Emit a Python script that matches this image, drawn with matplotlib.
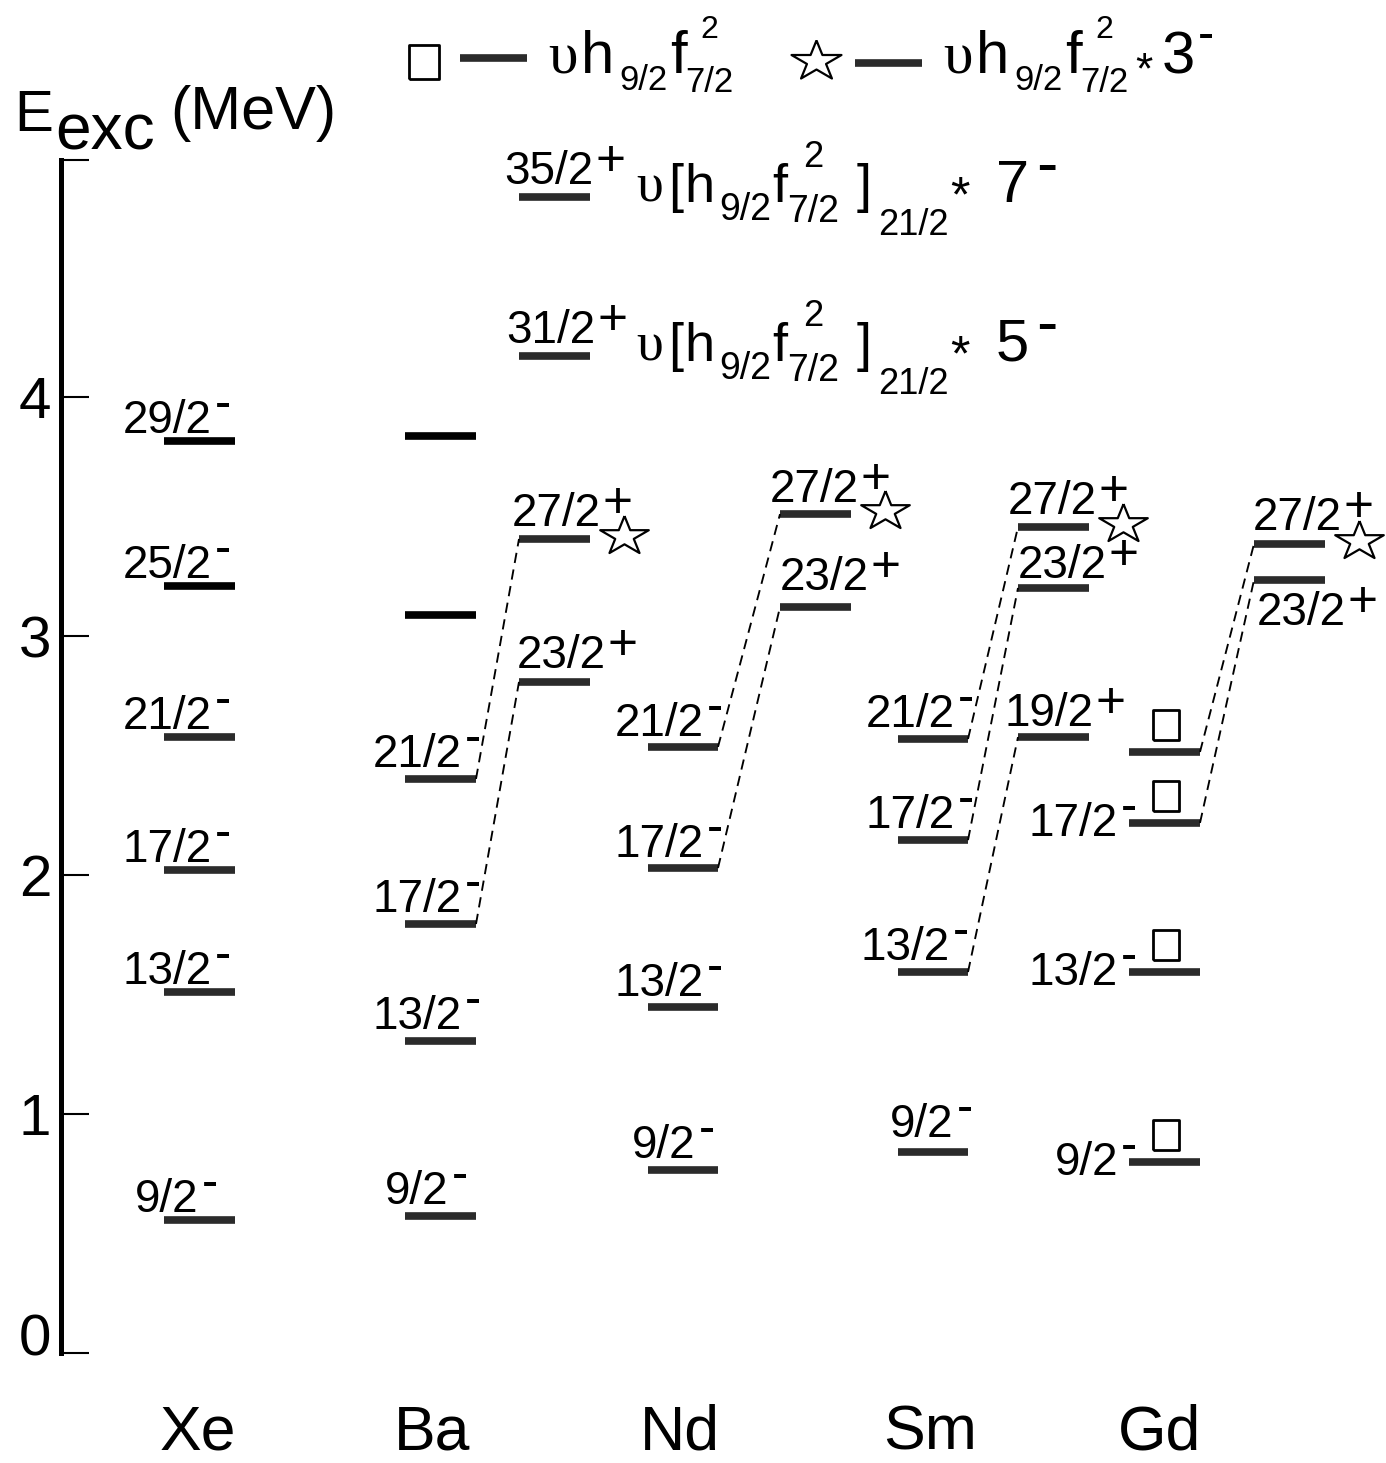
import numpy as np
import matplotlib
matplotlib.use("Agg")
import matplotlib.pyplot as plt
from matplotlib.transforms import ScaledTranslation

plt.rcParams['font.family'] = ['Liberation Sans', 'DejaVu Sans']

# ---------------- data (energies in MeV) ----------------
nuclei = ['Xe', 'Ba', 'Nd', 'Sm', 'Gd']

xe_spins = ['9/2', '13/2', '17/2', '21/2', '25/2', '29/2']
xe_energy = [0.556, 1.510, 2.021, 2.577, 3.209, 3.816]

ba_neg_spins = ['9/2', '13/2', '17/2', '21/2', '', '']
ba_neg_energy = [0.573, 1.305, 1.795, 2.402, 3.088, 3.837]
ba_pos_spins = ['23/2', '27/2', '31/2', '35/2']
ba_pos_energy = [2.808, 3.406, 4.172, 4.837]

nd_neg_spins = ['9/2', '13/2', '17/2', '21/2']
nd_neg_energy = [0.766, 1.448, 2.029, 2.536]
nd_pos_spins = ['23/2', '27/2']
nd_pos_energy = [3.121, 3.510]

sm_neg_spins = ['9/2', '13/2', '17/2', '21/2']
sm_neg_energy = [0.841, 1.594, 2.146, 2.569]
sm_pos_spins = ['19/2', '23/2', '27/2']
sm_pos_energy = [2.577, 3.201, 3.456]

gd_neg_spins = ['9/2', '13/2', '17/2', '']
gd_neg_energy = [0.799, 1.594, 2.218, 2.515]
gd_pos_spins = ['23/2', '27/2']
gd_pos_energy = [3.234, 3.385]

# configuration labels for the two highest Ba levels
config_levels = ['35/2', '31/2']
config_cores = ['7', '5']

# dashed links: (nucleus, negative-parity spin/index, positive-parity spin)
links = [('Ba', '21/2', '27/2'), ('Ba', '17/2', '23/2'),
         ('Nd', '21/2', '27/2'), ('Nd', '17/2', '23/2'),
         ('Sm', '21/2', '27/2'), ('Sm', '17/2', '23/2'), ('Sm', '13/2', '19/2'),
         ('Gd', 3, '27/2'), ('Gd', '17/2', '23/2')]
star_levels = [('Ba', '27/2'), ('Nd', '27/2'), ('Sm', '27/2'), ('Gd', '27/2')]
box_levels = [('Gd', 0), ('Gd', 1), ('Gd', 2), ('Gd', 3)]

y_ticks = [0, 1, 2, 3, 4]

# ---------------- layout ----------------
W, H = 1386, 1463
fig = plt.figure(figsize=(W / 100, H / 100), dpi=100)
ax = fig.add_axes([0, 0, 1, 1])
Y0, S = 1353.0, 239.0          # pixel row of 0 MeV, pixels per MeV


def ey(py):
    return (Y0 - py) / S


ax.set_xlim(0, W)
ax.set_ylim(ey(H), ey(0))
R = fig.canvas.get_renderer()

BAR = '#2b2b2b'
columns = {
    ('Xe', '-'): (xe_spins, xe_energy, 164, 235),
    ('Ba', '-'): (ba_neg_spins, ba_neg_energy, 405, 476),
    ('Ba', '+'): (ba_pos_spins, ba_pos_energy, 519, 590),
    ('Nd', '-'): (nd_neg_spins, nd_neg_energy, 648, 718),
    ('Nd', '+'): (nd_pos_spins, nd_pos_energy, 780, 851),
    ('Sm', '-'): (sm_neg_spins, sm_neg_energy, 898, 968),
    ('Sm', '+'): (sm_pos_spins, sm_pos_energy, 1018, 1089),
    ('Gd', '-'): (gd_neg_spins, gd_neg_energy, 1129, 1200),
    ('Gd', '+'): (gd_pos_spins, gd_pos_energy, 1254, 1325),
}
black_idx = {('Xe', '-'): [4, 5], ('Ba', '-'): [4, 5]}

# label placement (center offset from bar start, baseline above bar [px])
col_label = {('Xe', '-'): (3, 8), ('Ba', '-'): (12, 12), ('Ba', '+'): (37, 13),
             ('Nd', '-'): (11, 11), ('Nd', '+'): (34, 12), ('Sm', '-'): (12, 12),
             ('Sm', '+'): (34, 13), ('Gd', '-'): (-11, -13), ('Gd', '+'): (43, 14)}
overrides = {('Ba', '23/2'): (42, 14), ('Ba', '35/2'): (30, 13), ('Ba', '31/2'): (32, 13),
             ('Nd', '23/2'): (44, 17), ('Nd', '9/2'): (16, 12), ('Sm', '13/2'): (7, 12),
             ('Sm', '9/2'): (24, 15), ('Sm', '23/2'): (44, 10), ('Sm', '19/2'): (31, 11),
             ('Gd', '23/2'): (47, -45)}


def level(nuc, par, key):
    spins, en, x0, x1 = columns[(nuc, par)]
    i = key if isinstance(key, int) else spins.index(key)
    return en[i], x0, x1


def spin_label(xref, yb, text, parity, ha):
    t = ax.text(xref, yb, text, fontsize=33, ha=ha, va='baseline')
    right = t.get_window_extent(R).x1
    if parity == '-':
        ax.text(right + 3, yb + 15 / S, '-', fontsize=35, ha='left', va='baseline')
    else:
        ax.text(right + 2, yb + 8 / S, '+', fontsize=37, ha='left', va='baseline')


# bars + labels
for (nuc, par), (spins, en, x0, x1) in columns.items():
    cols = [('k' if i in black_idx.get((nuc, par), []) else BAR) for i in range(len(en))]
    ax.hlines(en, x0, x1, colors=cols, lw=5.5)
    for s, e in zip(spins, en):
        if not s:
            continue
        cdx, dy = overrides.get((nuc, s), col_label[(nuc, par)])
        if nuc == 'Gd' and par == '-':
            spin_label(x0 + cdx, e + dy / S, s, par, 'right')
        else:
            spin_label(x0 + cdx, e + dy / S, s, par, 'center')

# dashed links
for nuc, neg, pos in links:
    e1, _, xa = level(nuc, '-', neg)
    e2, xb, _ = level(nuc, '+', pos)
    ax.plot([xa, xb], [e1, e2], color='k', lw=1.35, ls=(0, (5.5, 3.5)))

# markers
ang = np.pi / 2 + np.arange(10) * np.pi / 5
rad = np.where(np.arange(10) % 2 == 0, 1.0, 0.381966)
star = np.column_stack([rad * np.cos(ang), 0.8 * rad * np.sin(ang)])
star = np.vstack([star, star[:1]])
box = np.array([[-0.43, -0.5], [0.43, -0.5], [0.43, 0.5], [-0.43, 0.5], [-0.43, -0.5]])

for nuc, s in star_levels:
    e, x0, x1 = level(nuc, '+', s)
    ax.plot([x1 + 34], [e + 3 / S], marker=star, ms=35, mfc='white', mec='k', mew=1.6, ls='none')
for nuc, i in box_levels:
    e, x0, x1 = level(nuc, '-', i)
    ax.plot([(x0 + x1) / 2 + 1], [e + 27 / S], marker=box, ms=22, mfc='none', mec='k', mew=2.0, ls='none')


# chained rich text
def chain(x, yb, pieces):
    cur, prev = x, None
    for p in pieces:
        fam = p.get('family', ['Liberation Sans', 'DejaVu Sans'])
        kw = dict(fontsize=p['fs'], va='baseline', family=fam)
        if p.get('over'):
            bb = prev.get_window_extent(R)
            ax.text((bb.x0 + bb.x1) / 2, yb + p.get('dy', 0) / S, p['s'], ha='center', **kw)
            continue
        t = ax.text(cur + p.get('gap', 0), yb + p.get('dy', 0) / S, p['s'], ha='left', **kw)
        cur = t.get_window_extent(R).x1
        prev = t


SERIF = ['Liberation Serif', 'DejaVu Serif']
for lvl, core in zip(config_levels, config_cores):
    e, x0, x1 = level('Ba', '+', lvl)
    chain(x1 + 46, e - 5 / S, [
        dict(s='υ', fs=39, family=SERIF),
        dict(s='[', fs=39, gap=5),
        dict(s='h', fs=39, gap=1),
        dict(s='9/2', fs=27, dy=-18, gap=5),
        dict(s='f', fs=39, gap=1),
        dict(s='7/2', fs=27, dy=-20, gap=0),
        dict(s='2', fs=26, dy=35, over=True),
        dict(s=']', fs=39, gap=18),
        dict(s='21/2', fs=26, dy=-33, gap=6),
        dict(s='*', fs=36, dy=-9, gap=2),
        dict(s=core, fs=43, gap=26),
        dict(s='-', fs=46, dy=17, gap=7),
    ])

# legend (top)
ax.plot([424], [ey(62)], marker=box, ms=25, mfc='none', mec='k', mew=2.0, ls='none')
ax.plot([460, 527], [ey(58)] * 2, color=BAR, lw=5.5, solid_capstyle='butt')
chain(548, ey(73), [
    dict(s='υ', fs=43, family=SERIF),
    dict(s='h', fs=43, gap=3),
    dict(s='9/2', fs=25, dy=-17, gap=6),
    dict(s='f', fs=43, gap=2),
    dict(s='7/2', fs=25, dy=-19, gap=-1),
    dict(s='2', fs=23, dy=35, over=True),
])
ax.plot([816], [ey(61)], marker=star, ms=36, mfc='white', mec='k', mew=1.6, ls='none')
ax.plot([855, 922], [ey(63)] * 2, color=BAR, lw=5.5, solid_capstyle='butt')
chain(943, ey(73), [
    dict(s='υ', fs=43, family=SERIF),
    dict(s='h', fs=43, gap=3),
    dict(s='9/2', fs=25, dy=-17, gap=6),
    dict(s='f', fs=43, gap=2),
    dict(s='7/2', fs=25, dy=-19, gap=-1),
    dict(s='2', fs=23, dy=35, over=True),
    dict(s='*', fs=32, dy=-10, gap=6),
    dict(s='3', fs=43, gap=10),
    dict(s='-', fs=35, dy=24, gap=2),
])

# axis
for side in ['top', 'right', 'bottom']:
    ax.spines[side].set_visible(False)
ax.spines['left'].set_position(('data', 61))
ax.spines['left'].set_linewidth(3.6)
ax.spines['left'].set_bounds(0, ey(160))
ax.set_yticks(y_ticks + [ey(160)])
ax.set_yticklabels([str(v) for v in y_ticks] + [''])
ax.tick_params(axis='y', direction='in', length=20, width=1.5, labelsize=42, pad=7)
ax.set_xticks([])
zero_lbl = ax.get_yticklabels()[0]
zero_lbl.set_transform(zero_lbl.get_transform() + ScaledTranslation(0, 18 / 100, fig.dpi_scale_trans))

ax.text(14, ey(131), 'E', fontsize=42, ha='left', va='baseline')
ax.text(55, ey(150), 'exc', fontsize=46, ha='left', va='baseline')
ax.text(170, ey(129), '(MeV)', fontsize=44, ha='left', va='baseline')

name_x = [198, 432, 680, 930, 1160]
for n, xc in zip(nuclei, name_x):
    ax.text(xc, ey(1449), n, fontsize=45, ha='center', va='baseline')

fig.savefig('out.png', dpi=100)
